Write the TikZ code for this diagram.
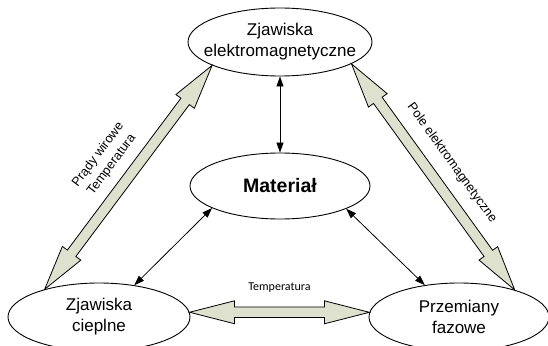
\documentclass[tikz,border=0pt]{standalone}
\usepackage{fontspec}
\setmainfont{Liberation Sans}
\newfontfamily\smallfont{Carlito}
\usetikzlibrary{shapes.geometric, arrows.meta, calc}
\definecolor{arrowfill}{RGB}{221,225,205}

% wide double-headed arrow from #1 to #2
\newcommand{\widearrow}[2]{%
  \filldraw[fat]
    (#1) -- ($(#1)!45pt!(#2)!11.5pt!90:(#2)$)
    -- ($(#1)!45pt!(#2)!5.3pt!90:(#2)$)
    -- ($(#2)!45pt!(#1)!5.3pt!-90:(#1)$)
    -- ($(#2)!45pt!(#1)!11.5pt!-90:(#1)$)
    -- (#2)
    -- ($(#2)!45pt!(#1)!11.5pt!90:(#1)$)
    -- ($(#2)!45pt!(#1)!5.3pt!90:(#1)$)
    -- ($(#1)!45pt!(#2)!5.3pt!-90:(#2)$)
    -- ($(#1)!45pt!(#2)!11.5pt!-90:(#2)$)
    -- cycle;}

\begin{document}
\begin{tikzpicture}[
  x=1pt, y=-1pt,
  bubble/.style={ellipse, draw, line width=0.9pt, inner sep=0pt},
  txt/.style={align=center, font=\fontsize{17}{21}\selectfont},
  fat/.style={fill=arrowfill, draw=black, line width=0.8pt},
  link/.style={{Triangle[length=10pt,width=7pt]}-{Triangle[length=10pt,width=7pt]}, line width=0.8pt},
  lbl/.style={inner sep=0pt, font=\fontsize{12.8}{17}\selectfont}
]
\useasboundingbox (0,0) rectangle (548,345);
\fill[white] (0,0) rectangle (548,345);
\clip (0,0) rectangle (548,345);

% Nodes
\node (em) [bubble, minimum width=184pt, minimum height=68pt,
  label={[txt]center:Zjawiska\\elektromagnetyczne}] at (280,42) {};
\node (mat) [bubble, minimum width=180pt, minimum height=66pt,
  label={[font=\fontsize{19.5}{23}\selectfont\bfseries]center:Materiał}] at (280,186) {};
\node (heat) [bubble, minimum width=182pt, minimum height=68pt,
  label={[txt]center:Zjawiska\\cieplne}] at (99,317) {};
\node (phase) [bubble, minimum width=180pt, minimum height=68pt,
  label={[txt]center:Przemiany\\fazowe}] at (459,317) {};

% Wide arrows
\widearrow{heat.153}{em.199}
\widearrow{em.-17}{phase.26}
\widearrow{heat.3}{phase.177}

% Thin arrows
\draw [link] (em.south) -- (mat.north);
\draw [link] (mat.198) -- (heat.42);
\draw [link] (mat.-19) -- (phase.137);

% Labels
\path (heat.153) -- node[lbl, sloped, above=14.5pt, align=center] {Prądy wirowe\\Temperatura} (em.199);
\path (em.-17) -- node[lbl, sloped, above=17pt] {Pole elektromagnetyczne} (phase.26);
\path (heat.3) -- node[above=19.7pt, inner sep=0pt, font=\smallfont\fontsize{12}{14}\selectfont] {Temperatura} (phase.177);

\end{tikzpicture}
\end{document}
